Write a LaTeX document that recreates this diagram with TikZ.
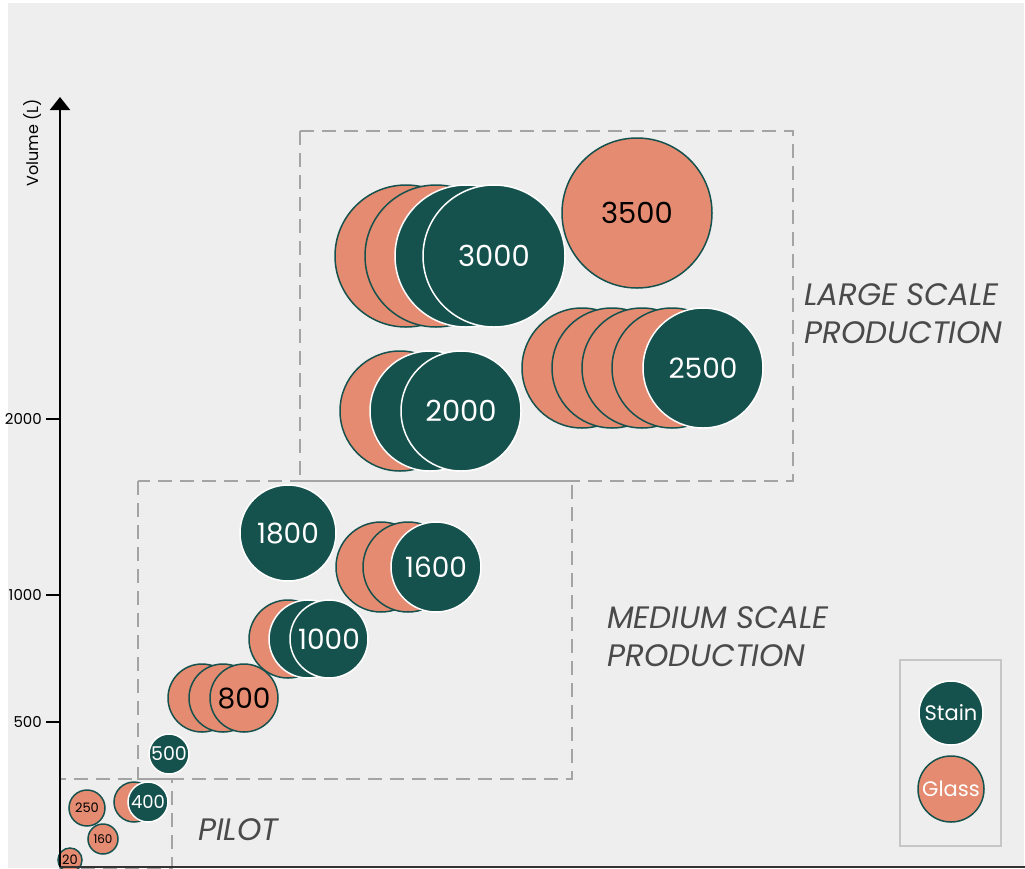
\documentclass[tikz,border=0pt]{standalone}
\usepackage{fontspec}
\setmainfont{Poppins}
\usetikzlibrary{positioning, arrows.meta}
\definecolor{stain}{HTML}{15524E}
\definecolor{glass}{HTML}{E48B71}
\definecolor{backdrop}{HTML}{EEEEEE}
\definecolor{zonegrey}{HTML}{A4A4A4}
\definecolor{captiongrey}{HTML}{4A4A4A}
\definecolor{legendgrey}{HTML}{C6C6C6}
\newcommand{\pxsize}[1]{\fontsize{#1}{#1}\selectfont}
\tikzstyle{stainball} =
        [
                circle,
                draw = white,
                fill = stain,
                text = white,
                line width = 1.5pt,
                inner sep = 0pt
        ]
\tikzstyle{glassball} =
        [
                circle,
                draw = stain,
                fill = glass,
                text = black,
                line width = 1.5pt,
                inner sep = 0pt
        ]
\tikzstyle{zone} =
        [
                draw = zonegrey,
                line width = 2.5pt,
                dash pattern = on 14pt off 8pt
        ]
\tikzstyle{zonetext} =
        [
                anchor = north west,
                inner sep = 0pt,
                align = left,
                text = captiongrey,
                font = \fontsize{31}{38}\selectfont\itshape
        ]
\tikzstyle{axis} =
        [
                draw = black,
                line width = 2pt
        ]
\tikzstyle{ticktext} =
        [
                anchor = east,
                inner sep = 0pt,
                font = \pxsize{15}
        ]

\begin{document}
\begin{tikzpicture}[x = 1pt, y = -1pt, node distance = 30pt]
        \useasboundingbox (0, 0) rectangle (1025, 868);
        \fill [white] (0, 0) rectangle (1025, 868);
        \fill [backdrop] (8, 3) rectangle (1024, 868);

        % zones
        \draw [zone] (300, 131) rectangle (793, 481);
        \draw [zone] (138, 481) rectangle (572, 779);
        \draw [zone] (60, 779) rectangle (172, 868);
        \node [zonetext] (large) at (804, 283) {LARGE SCALE\\PRODUCTION};
        \node [zonetext] (medium) at (607, 606) {MEDIUM SCALE\\PRODUCTION};
        \node [zonetext] (pilot) at (198, 818) {PILOT};

        % pilot
        \node [glassball, minimum size = 24pt, font = \pxsize{13}] (glass20) at (70, 860) {20};
        \node [glassball, minimum size = 36pt, font = \pxsize{13}] (glass250) at (87, 808) {250};
        \node [glassball, minimum size = 30pt, font = \pxsize{12}] (glass160) at (103, 839) {160};
        \node [glassball, minimum size = 40pt] (glass400) at (134, 802) {};
        \node [stainball, minimum size = 40pt, font = \pxsize{18}, right of = glass400, node distance = 14pt] (stain400) {400};

        % medium
        \node [stainball, minimum size = 40pt, font = \pxsize{19}] (stain500) at (169, 754) {500};
        \node [glassball, minimum size = 68pt] (glass800a) at (202, 698) {};
        \node [glassball, minimum size = 68pt, right of = glass800a, node distance = 21pt] (glass800b) {};
        \node [glassball, minimum size = 68pt, font = \pxsize{28}, right of = glass800b, node distance = 21pt] (glass800) {800};
        \node [glassball, minimum size = 78pt] (glass1000) at (288, 639) {};
        \node [stainball, minimum size = 78pt, right of = glass1000, node distance = 20pt] (stain1000a) {};
        \node [stainball, minimum size = 78pt, font = \pxsize{28}, right of = stain1000a, node distance = 21pt] (stain1000) {1000};
        \node [stainball, minimum size = 96pt, font = \pxsize{28}] (stain1800) at (288, 533) {1800};
        \node [glassball, minimum size = 90pt] (glass1600a) at (381, 567) {};
        \node [glassball, minimum size = 90pt, right of = glass1600a, node distance = 27pt] (glass1600b) {};
        \node [stainball, minimum size = 90pt, font = \pxsize{28}, right of = glass1600b, node distance = 28pt] (stain1600) {1600};

        % large
        \node [glassball, minimum size = 142pt] (glass3000a) at (406, 256) {};
        \node [glassball, minimum size = 142pt, right of = glass3000a] (glass3000b) {};
        \node [stainball, minimum size = 142pt, right of = glass3000b] (stain3000a) {};
        \node [stainball, minimum size = 142pt, font = \pxsize{29}, right of = stain3000a, node distance = 28pt] (stain3000) {3000};
        \node [glassball, minimum size = 150pt, font = \pxsize{29}] (glass3500) at (637, 213) {3500};
        \node [glassball, minimum size = 120pt] (glass2000) at (400, 411) {};
        \node [stainball, minimum size = 120pt, right of = glass2000] (stain2000a) {};
        \node [stainball, minimum size = 120pt, font = \pxsize{29}, right of = stain2000a, node distance = 31pt] (stain2000) {2000};
        \node [glassball, minimum size = 120pt] (glass2500a) at (582, 368) {};
        \node [glassball, minimum size = 120pt, right of = glass2500a] (glass2500b) {};
        \node [glassball, minimum size = 120pt, right of = glass2500b] (glass2500c) {};
        \node [glassball, minimum size = 120pt, right of = glass2500c] (glass2500d) {};
        \node [stainball, minimum size = 120pt, font = \pxsize{28}, right of = glass2500d, node distance = 31pt] (stain2500) {2500};

        % axes
        \coordinate (origin) at (60, 867);
        \coordinate (ytop) at (60, 97);
        \coordinate (xend) at (1025, 867);
        \draw [axis, draw = black!80] (origin) -- (xend);
        \draw [axis, -{Triangle[width = 20pt, length = 13pt]}] (origin) -- (ytop);
        \node [rotate = 90, font = \pxsize{16}] (ylabel) at (33, 143) {Volume (L)};
        \foreach \val/\ypos in {2000/419, 1000/595, 500/722}
        {
                \coordinate (tick\val) at (60, \ypos);
                \coordinate (tickend\val) at (46, \ypos);
                \draw [axis] (tick\val) -- (tickend\val);
                \node [ticktext] (ticklabel\val) at (42, \ypos) {\val};
        }

        % legend
        \node [draw = legendgrey, line width = 2pt, minimum width = 101pt, minimum height = 186pt, inner sep = 0pt] (legend) at (950.5, 753) {};
        \node [stainball, minimum size = 64pt, font = \pxsize{21}] (legendstain) at (951, 713) {Stain};
        \node [glassball, minimum size = 66pt, font = \pxsize{21}, text = white] (legendglass) at (951, 789) {Glass};
\end{tikzpicture}
\end{document}
